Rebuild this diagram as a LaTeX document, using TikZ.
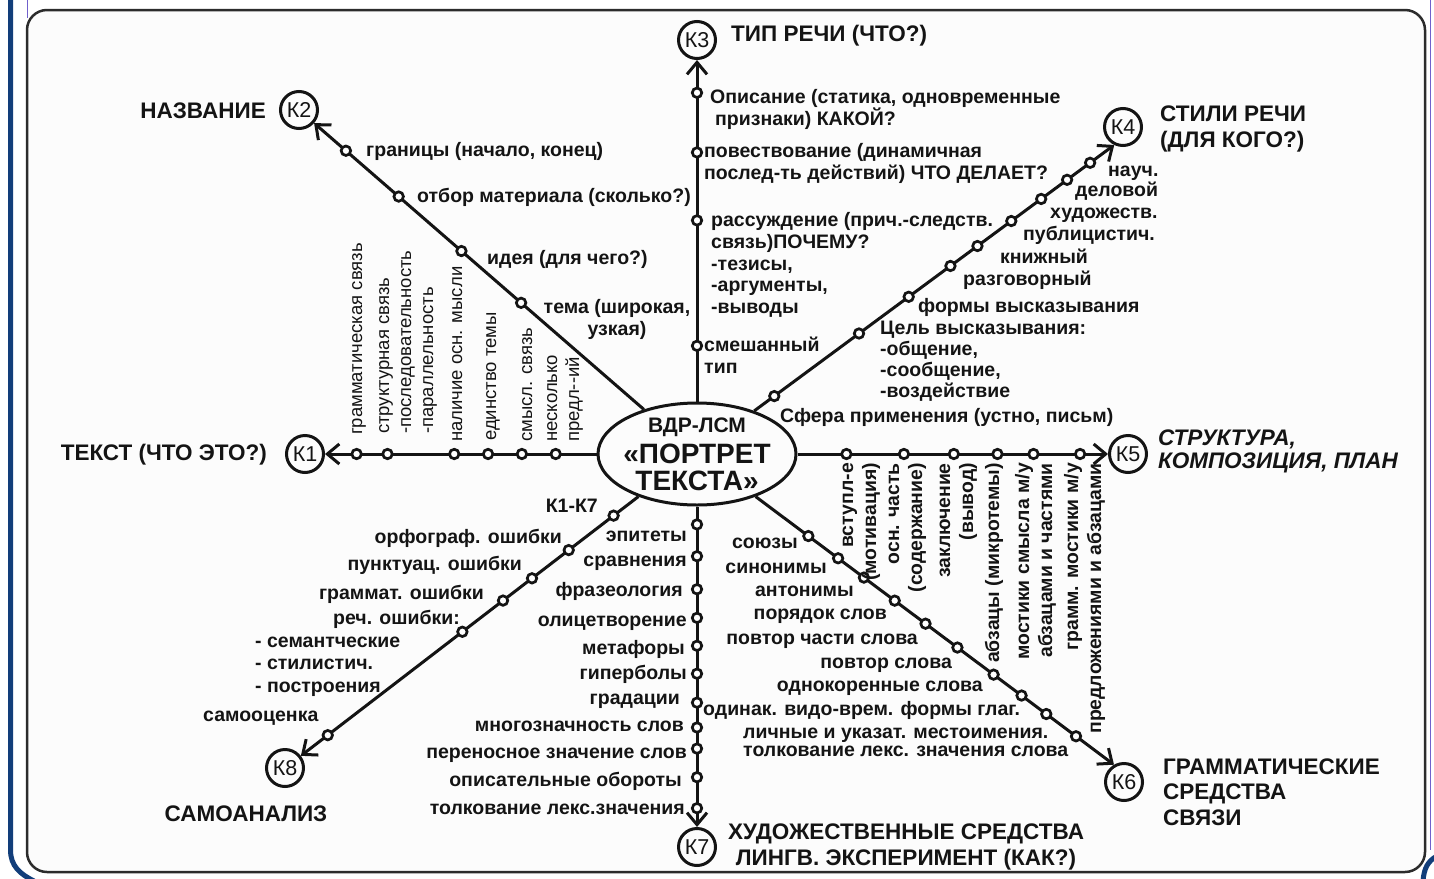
\documentclass[tikz,border=0pt]{standalone}
\usepackage{fontspec}
\setmainfont{Liberation Sans}
\usetikzlibrary{calc,arrows.meta,shapes.geometric}
\definecolor{framebar}{RGB}{18,62,122}
\definecolor{frameline}{RGB}{112,96,204}
\definecolor{ink}{RGB}{20,20,20}
\definecolor{paper}{RGB}{252,252,252}

\begin{document}
\begin{tikzpicture}[x=1pt,y=-1pt,
  branch/.style={draw=ink,line width=3pt,-{Straight Barb[length=12pt,width=20pt]}},
  kbox/.style={circle,draw=ink,line width=3pt,minimum size=37pt,inner sep=0pt,text=ink,font=\fontsize{21.5}{21.5}\selectfont},
  dot/.style={circle,draw=ink,line width=2.7pt,fill=white,minimum size=9.5pt,inner sep=0pt},
  lab/.style={inner sep=0pt,text=ink,font=\fontsize{19.5}{21.8}\selectfont\bfseries},
  vlab/.style={inner sep=0pt,text=ink,rotate=90,align=left,font=\fontsize{18.5}{22}\selectfont},
  vblab/.style={inner sep=0pt,text=ink,rotate=90,align=right,font=\fontsize{19.4}{23}\selectfont\bfseries},
  ttl/.style={inner sep=0pt,text=ink,font=\fontsize{22.5}{25.5}\selectfont\bfseries},
]
\useasboundingbox (0,0) rectangle (1434,878);
\fill[white] (0,0) rectangle (1434,878);

% frame
\draw[ink!90,line width=2.5pt,rounded corners=20pt,fill=paper] (27,10) rectangle (1425,872);
\draw[framebar,line width=5pt] (10.5,-3) -- (10.5,850) .. controls (10.5,866) and (20,874) .. (34,881);
\draw[framebar,line width=5pt] (1423,881) .. controls (1424,868) and (1428,861) .. (1437,856);
\draw[frameline,line width=1pt] (27,0) -- (27,18);
\draw[frameline,line width=1pt] (1430,0) -- (1430,850);

% centre
\node[ellipse,draw=ink,line width=3pt,minimum width=198pt,minimum height=102pt,inner sep=0pt] (E) at (697,454) {};
\node[inner sep=0pt,text=ink,anchor=base,font=\fontsize{21}{21}\selectfont\bfseries] (c1) at (697,432) {ВДР-ЛСМ};
\node[inner sep=0pt,text=ink,anchor=base,font=\fontsize{28}{28}\selectfont\bfseries] (c2) at (697,463) {«ПОРТРЕТ};
\node[inner sep=0pt,text=ink,anchor=base,font=\fontsize{28}{28}\selectfont\bfseries] (c3) at (697,490) {ТЕКСТА»};

% terminals
\node[kbox] (K1) at (305,454) {К1};
\node[kbox] (K2) at (299,110) {К2};
\node[kbox] (K3) at (697,40) {К3};
\node[kbox] (K4) at (1123,127) {К4};
\node[kbox] (K5) at (1128,454) {К5};
\node[kbox] (K6) at (1124,782) {К6};
\node[kbox] (K7) at (697,847) {К7};
\node[kbox] (K8) at (285,768) {К8};

% branches
\draw[branch] (E.180) -- (K1);
\draw[branch] (E.140) -- (K2);
\draw[branch] (E.90) -- (K3);
\draw[branch] (E.37) -- (K4.244);
\draw[branch] (E.0) -- (K5);
\draw[branch] (E.324) -- (K6.120);
\draw[branch] (E.270) -- (K7);
\draw[branch] (E.216) -- (K8);

% stops along the branches
\foreach \t [count=\i] in {0.823,0.717,0.488,0.372,0.256,0.140}
  \node[dot] (s1\i) at ($(E.180)!\t!(K1.center)$) {};
\foreach \t [count=\i] in {0.864,0.711,0.529,0.356}
  \node[dot] (s2\i) at ($(E.140)!\t!(K2.center)$) {};
\foreach \t [count=\i] in {0.854,0.689,0.501,0.154}
  \node[dot] (s3\i) at ($(E.90)!\t!(K3.center)$) {};
\foreach \t [count=\i] in {0.0556,0.291,0.429,0.545,0.620,0.714,0.797,0.869,0.933}
  \node[dot] (s4\i) at ($(E.37)!\t!(K4.244)$) {};
\foreach \t [count=\i] in {0.148,0.322,0.473,0.605,0.714,0.855}
  \node[dot] (s5\i) at ($(E.0)!\t!(K5.center)$) {};
\foreach \t [count=\i] in {0.147,0.230,0.302,0.388,0.474,0.563,0.664,0.742,0.811,0.894}
  \node[dot] (s6\i) at ($(E.324)!\t!(K6.120)$) {};
\foreach \t [count=\i] in {0.0526,0.146,0.243,0.327,0.409,0.491,0.576,0.649,0.711,0.795,0.886}
  \node[dot] (s7\i) at ($(E.270)!\t!(K7.center)$) {};
\foreach \t [count=\i] in {0.070,0.197,0.301,0.383,0.498,0.879}
  \node[dot] (s8\i) at ($(E.216)!\t!(K8.center)$) {};

% titles (multi-line nodes sit on the baseline of their last line)
\node[ttl,anchor=base east] (t1) at (267,460) {ТЕКСТ (ЧТО ЭТО?)};
\node[ttl,anchor=base east] (t2) at (266,118) {НАЗВАНИЕ};
\node[ttl,anchor=base west] (t3) at (731,41) {ТИП РЕЧИ (ЧТО?)};
\node[ttl,anchor=base west,align=left,font=\fontsize{22.5}{26}\selectfont\bfseries] (t4) at (1160,147) {СТИЛИ РЕЧИ\\(ДЛЯ КОГО?)};
\node[ttl,anchor=base west,align=left,font=\fontsize{22.5}{23}\selectfont\bfseries\itshape] (t5) at (1158,468) {СТРУКТУРА,\\КОМПОЗИЦИЯ, ПЛАН};
\node[ttl,anchor=base west,align=left] (t6) at (1163,825) {ГРАММАТИЧЕСКИЕ\\СРЕДСТВА\\СВЯЗИ};
\node[ttl,anchor=base,align=center,font=\fontsize{22.5}{26}\selectfont\bfseries] (t7) at (906,865) {ХУДОЖЕСТВЕННЫЕ СРЕДСТВА\\ЛИНГВ. ЭКСПЕРИМЕНТ (КАК?)};
\node[ttl,anchor=base] (t8) at (246,821) {САМОАНАЛИЗ};

% K1: text
\node[vlab,anchor=base west] (l11) at (362,435) {грамматическая связь};
\node[vlab,anchor=base west] (l12) at (433,434) {структурная связь\\-последовательность\\-параллельность};
\node[vlab,anchor=base west] (l13) at (462,442) {наличие осн. мысли};
\node[vlab,anchor=base west] (l14) at (496,441) {единство темы};
\node[vlab,anchor=base west] (l15) at (532,442) {смысл. связь};
\node[vlab,anchor=base west] (l16) at (579,442) {несколько\\предл-{}-ий};

% K2: title
\node[lab,anchor=base west] (l21) at (366,156.5) {границы (начало, конец)};
\node[lab,anchor=base west] (l22) at (417,202.5) {отбор материала (сколько?)};
\node[lab,anchor=base west] (l23) at (487,264.5) {идея (для чего?)};
\node[lab,anchor=base,align=center] (l24) at (617,335.3) {тема (широкая,\\узкая)};

% K3: type of speech
\node[lab,anchor=base west,align=left] (l31) at (710,125.3) {Описание (статика, одновременные\\\hspace*{5pt}признаки) КАКОЙ?};
\node[lab,anchor=base west,align=left] (l32) at (704,179.3) {повествование (динамичная\\послед-ть действий) ЧТО ДЕЛАЕТ?};
\node[lab,anchor=base west,align=left] (l33) at (711,313.7) {рассуждение (прич.-следств.\\связь)ПОЧЕМУ?\\-тезисы,\\-аргументы,\\-выводы};
\node[lab,anchor=base west,align=left] (l34) at (704,373.3) {смешанный\\тип};

% K4: styles of speech
\node[lab,anchor=base west] (l41) at (1108,176.5) {науч.};
\node[lab,anchor=base west] (l42) at (1075,196) {деловой};
\node[lab,anchor=base west] (l43) at (1050,218) {художеств.};
\node[lab,anchor=base west] (l44) at (1023,240.5) {публицистич.};
\node[lab,anchor=base west] (l45) at (1000,263.5) {книжный};
\node[lab,anchor=base west] (l46) at (963,285.5) {разговорный};
\node[lab,anchor=base west] (l47) at (918,312.5) {формы высказывания};
\node[lab,anchor=base west,align=left,font=\fontsize{19.5}{21}\selectfont\bfseries] (l48) at (880,397.5) {Цель высказывания:\\-общение,\\-сообщение,\\-воздействие};
\node[lab,anchor=base west] (l49) at (780,422) {Сфера применения (устно, письм)};

% K5: structure
\node[vblab,anchor=base east] (l51) at (876,463) {вступл-е\\(мотивация)};
\node[vblab,anchor=base east] (l52) at (922,463) {осн. часть\\(содержание)};
\node[vblab,anchor=base east] (l53) at (973,463) {заключение\\(вывод)};
\node[vblab,anchor=base east] (l54) at (999,463) {абзацы (микротемы)};
\node[vblab,anchor=base east] (l55) at (1052,463) {мостики смысла м/у\\абзацами и частями};
\node[vblab,anchor=base east] (l56) at (1101,463) {грамм. мостики м/у\\предложениями и абзацами};

% K6: grammatical means
\node[lab,anchor=base east] (l61) at (798,548) {союзы};
\node[lab,anchor=base east] (l62) at (827,573) {синонимы};
\node[lab,anchor=base east] (l63) at (854,596) {антонимы};
\node[lab,anchor=base east] (l64) at (887,619) {порядок слов};
\node[lab,anchor=base east] (l65) at (918,644) {повтор части слова};
\node[lab,anchor=base east] (l66) at (952,668) {повтор слова};
\node[lab,anchor=base east] (l67) at (983,691) {однокоренные слова};
\node[lab,anchor=base west] (l68) at (703,715) {одинак. видо-врем. формы глаг.};
\node[lab,anchor=base west] (l69) at (743,738) {личные и указат. местоимения.};
\node[lab,anchor=base west] (l60) at (743,756) {толкование лекс. значения слова};

% K7: expressive means
\node[lab,anchor=base east] (l71) at (687,541) {эпитеты};
\node[lab,anchor=base east] (l72) at (687,566) {сравнения};
\node[lab,anchor=base east] (l73) at (683,596) {фразеология};
\node[lab,anchor=base east] (l74) at (687,626) {олицетворение};
\node[lab,anchor=base east] (l75) at (685,654) {метафоры};
\node[lab,anchor=base east] (l76) at (687,679) {гиперболы};
\node[lab,anchor=base east] (l77) at (680,704) {градации};
\node[lab,anchor=base east] (l78) at (684,731) {многозначность слов};
\node[lab,anchor=base east] (l79) at (687,758) {переносное значение слов};
\node[lab,anchor=base east] (l7a) at (682,786) {описательные обороты};
\node[lab,anchor=base east] (l7b) at (685,814) {толкование лекс.значения};

% K8: self-analysis
\node[lab,anchor=base east] (l81) at (598,512) {К1-К7};
\node[lab,anchor=base east] (l82) at (562,543) {орфограф. ошибки};
\node[lab,anchor=base east] (l83) at (522,570) {пунктуац. ошибки};
\node[lab,anchor=base east] (l84) at (484,599) {граммат. ошибки};
\node[lab,anchor=base east] (l85) at (460,624) {реч. ошибки:};
\node[lab,anchor=base west,align=left,font=\fontsize{19.5}{22.5}\selectfont\bfseries] (l86) at (255,692) {- семантческие\\- стилистич.\\- построения};
\node[lab,anchor=base west] (l87) at (203,721) {самооценка};
\end{tikzpicture}
\end{document}
